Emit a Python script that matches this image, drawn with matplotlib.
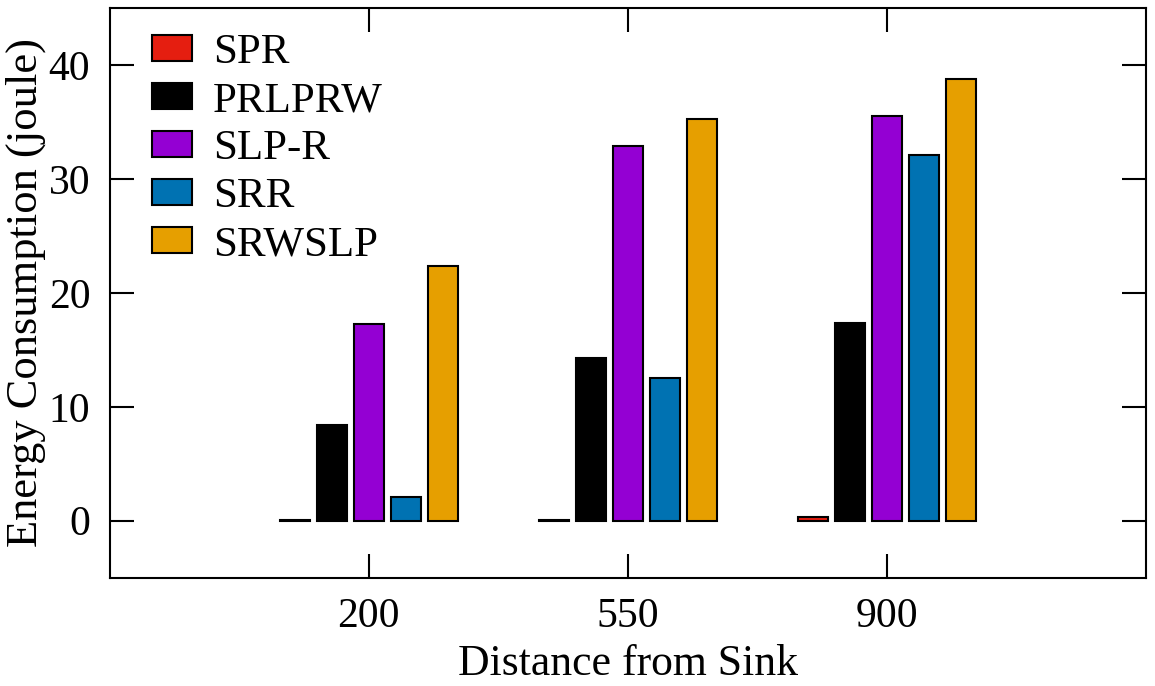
import matplotlib.pyplot as plt
import numpy as np

plt.rcParams["font.family"] = ["Liberation Serif", "DejaVu Serif"]
plt.rcParams["mathtext.fontset"] = "stix"

# energy consumption per protocol at each sink distance
distances = ["200", "550", "900"]
protocols = ["SPR", "PRLPRW", "SLP-R", "SRR", "SRWSLP"]
spr = [0.05, 0.1, 0.3]
prlprw = [8.4, 14.3, 17.4]
slp_r = [17.3, 32.9, 35.5]
srr = [2.1, 12.5, 32.1]
srwslp = [22.4, 35.3, 38.8]
colors = ["#e51e10", "#000000", "#9400d3", "#0072b2", "#e69f00"]

series = [spr, prlprw, slp_r, srr, srwslp]

fig = plt.figure(figsize=(11.55, 6.86), dpi=100)
ax = fig.add_axes([0.095, 0.158, 0.897, 0.83])

x = np.arange(len(distances))
step = 0.143
width = 0.115
for i, (vals, name, c) in enumerate(zip(series, protocols, colors)):
    ax.bar(x + (i - 2) * step, vals, width=width, color=c,
           edgecolor="black", linewidth=1.5, label=name)

ax.set_xlim(-1, 3)
ax.set_ylim(-5, 45)
ax.set_xticks(x)
ax.set_xticklabels(distances)
ax.set_yticks([0, 10, 20, 30, 40])
ax.tick_params(direction="in", length=17, width=1.5, labelsize=30,
               top=True, right=True, pad=14)
ax.tick_params(axis="x", pad=14)
for sp in ax.spines.values():
    sp.set_linewidth(1.5)

ax.set_xlabel("Distance from Sink", fontsize=31.5, labelpad=6)
ax.set_ylabel("Energy Consumption (joule)", fontsize=32, labelpad=2)

ax.legend(loc="upper left", frameon=False, fontsize=31,
          handlelength=0.93, handleheight=0.58, handletextpad=0.48,
          labelspacing=0.22, borderaxespad=0.2, borderpad=0.3,
          bbox_to_anchor=(0.02, 0.993))

fig.savefig("out.png", dpi=100)
